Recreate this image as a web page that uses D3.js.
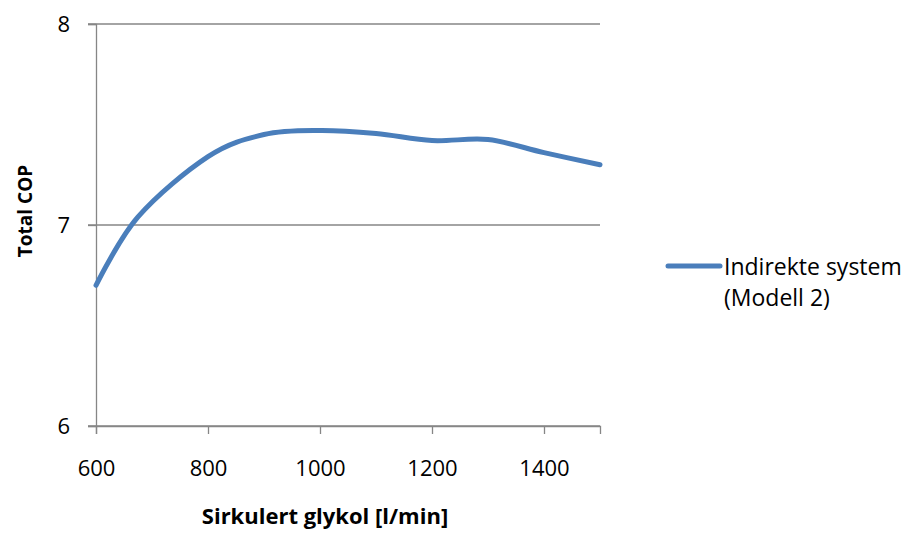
<!DOCTYPE html>
<html>
<head>
<meta charset="utf-8">
<script src="https://cdn.jsdelivr.net/npm/d3@7"></script>
<style>
  body { margin: 0; background: #fff; }
  text { font-family: "Open Sans", "Noto Sans", sans-serif; fill: #000; }
</style>
</head>
<body>
<svg id="chart" width="906" height="534"></svg>
<script>
// values
let flowValues = [600, 675, 800, 900, 1000, 1100, 1200, 1300, 1400, 1500];
let copValues = [6.70, 7.04, 7.34, 7.45, 7.47, 7.455, 7.42, 7.425, 7.36, 7.30];
let xTicks = [600, 800, 1000, 1200, 1400];
let yTicks = [6, 7, 8];
let seriesName = ['Indirekte system', '(Modell 2)'];

let svg = d3.select('svg#chart');
let axisColor = '#868686';
let lineColor = '#4a7ebb';

let plotLeft = 96, plotRight = 600, plotTop = 24, plotBottom = 426;

let xScale = d3.scaleLinear().domain([600, 1500]).range([plotLeft, plotRight]);
let yScale = d3.scaleLinear().domain([6, 8]).range([plotBottom, plotTop]);

// gridlines (the 6 line is the x axis)
svg.selectAll('line.grid')
  .data(yTicks)
  .enter().append('line')
  .attr('class', 'grid')
  .attr('x1', plotLeft - 8)
  .attr('x2', plotRight)
  .attr('y1', d => yScale(d))
  .attr('y2', d => yScale(d))
  .attr('stroke', axisColor)
  .attr('stroke-width', 1.3);

// y axis
let yAxis = d3.axisLeft(yScale).tickValues(yTicks).tickSize(8).tickPadding(18).tickFormat(d3.format('d'));
let gY = svg.append('g').attr('transform', `translate(${plotLeft},0)`).call(yAxis);
gY.select('.domain').attr('stroke', axisColor).attr('stroke-width', 1.3);
gY.selectAll('.tick line').attr('stroke', axisColor).attr('stroke-width', 1.3);
gY.selectAll('.tick text').style('font-size', '22px');

// x axis
let xAxis = d3.axisBottom(xScale).tickValues(xTicks).tickSize(8).tickPadding(26).tickFormat(d3.format('d'));
let gX = svg.append('g').attr('transform', `translate(0,${plotBottom})`).call(xAxis);
gX.select('.domain').attr('stroke', axisColor).attr('stroke-width', 1.3);
gX.selectAll('.tick line').attr('stroke', axisColor).attr('stroke-width', 1.3);
gX.selectAll('.tick text').style('font-size', '22px');

// the series
let lineGenerator = d3.line()
  .x((d, i) => xScale(flowValues[i]))
  .y(d => yScale(d))
  .curve(d3.curveCardinal.tension(0));

svg.append('path')
  .datum(copValues)
  .attr('d', lineGenerator)
  .attr('fill', 'none')
  .attr('stroke', lineColor)
  .attr('stroke-width', 5)
  .attr('stroke-linecap', 'round');

// axis titles
svg.append('text')
  .attr('text-anchor', 'middle')
  .attr('x', 325)
  .attr('y', 524)
  .style('font-size', '22px')
  .style('font-weight', 'bold')
  .text('Sirkulert glykol [l/min]');

svg.append('text')
  .attr('text-anchor', 'middle')
  .attr('transform', 'translate(32,211) rotate(-90)')
  .style('font-size', '19px')
  .style('font-weight', 'bold')
  .text('Total COP');

// legend
svg.append('line')
  .attr('x1', 668).attr('x2', 720)
  .attr('y1', 266).attr('y2', 266)
  .attr('stroke', lineColor)
  .attr('stroke-width', 5)
  .attr('stroke-linecap', 'round');

svg.selectAll('text.legend')
  .data(seriesName)
  .enter().append('text')
  .attr('class', 'legend')
  .attr('x', 724)
  .attr('y', (d, i) => 275 + i * 31)
  .style('font-size', '23px')
  .text(d => d);
</script>
</body>
</html>
